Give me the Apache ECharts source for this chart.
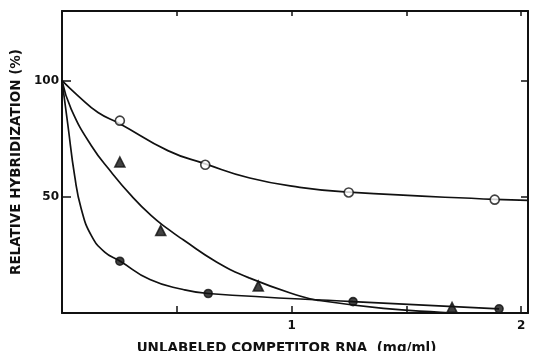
<!DOCTYPE html>
<html>
<head>
<meta charset="utf-8">
<script src="https://cdn.jsdelivr.net/npm/echarts@6/dist/echarts.min.js"></script>
<style>
  html, body { margin: 0; padding: 0; background: #fff; }
  #chart { width: 534px; height: 351px; }
</style>
</head>
<body>
<div id="chart"></div>
<script>
// measured markers [mg/ml, %]
var openPoints = [[0.252, 82.8], [0.624, 63.8], [1.249, 51.9], [1.885, 48.8]];
var trianglePoints = [[0.252, 65.0], [0.430, 35.5], [0.855, 11.6], [1.699, 2.4]];
var dotPoints = [[0.252, 22.3], [0.637, 8.4], [1.268, 4.9], [1.904, 1.8]];

// fitted curves
var openCurve = [[0, 100], [0.07, 93.5], [0.157, 86.3], [0.252, 81.5], [0.461, 69.9], [0.624, 64.2],
    [0.818, 58.1], [1.036, 54.1], [1.249, 52.0], [1.885, 48.9], [2.03, 48.5]];
var triangleCurve = [[0, 100], [0.04, 87.8], [0.128, 72.0], [0.215, 60.6], [0.302, 50.5], [0.389, 41.9],
    [0.461, 36.2], [0.528, 31.5], [0.673, 22.0], [0.818, 15.0], [1.036, 7.3], [1.12, 5.4],
    [1.4, 2.0], [1.65, 0.3], [1.72, 0]];
var dotCurve = [[0, 100], [0.026, 80.6], [0.055, 59.1], [0.084, 44.8], [0.128, 33.3], [0.186, 26.2],
    [0.252, 22.4], [0.383, 14.4], [0.528, 10.1], [0.637, 8.4], [1.268, 4.9], [1.904, 1.8]];

var xLabels = [1, 2];
var yLabels = [50, 100];

var ink = '#111';
var font = 'DejaVu Sans';

var chart = echarts.init(document.getElementById('chart'));

function curve(data) {
    return {
        type: 'line',
        data: data,
        smooth: 0.5,
        showSymbol: false,
        symbol: 'none',
        silent: true,
        lineStyle: { color: ink, width: 1.7 },
        z: 2
    };
}

function marks(data, symbol, size, fill) {
    return {
        type: 'scatter',
        data: data,
        symbol: symbol,
        symbolSize: size,
        itemStyle: { color: fill, borderColor: ink, borderWidth: 1.6 },
        z: 5
    };
}

var option = {
    animation: false,
    backgroundColor: '#fff',
    grid: { left: 62, right: 6, top: 11, bottom: 38, outerBoundsMode: 'none' },
    xAxis: [{
        type: 'value',
        min: 0,
        max: 2.03,
        interval: 0.5,
        splitLine: { show: false },
        axisLine: { onZero: false, lineStyle: { color: ink, width: 2 } },
        axisTick: { inside: true, length: 7, lineStyle: { color: ink, width: 1.5 } },
        axisLabel: {
            color: ink, fontFamily: font, fontSize: 12, fontWeight: 'bold', margin: 7,
            showMaxLabel: false,
            formatter: function (v) { return xLabels.indexOf(v) >= 0 ? String(v) : ''; }
        },
        name: 'UNLABELED COMPETITOR RNA  (mg/ml)',
        nameLocation: 'middle',
        nameGap: 28,
        nameTextStyle: { color: ink, fontFamily: font, fontSize: 13.5, fontWeight: 'bold', padding: [0, 17, 0, 0] }
    }, {
        type: 'value',
        position: 'top',
        min: 0,
        max: 2.03,
        interval: 0.5,
        splitLine: { show: false },
        axisLine: { onZero: false, lineStyle: { color: ink, width: 2 } },
        axisTick: { inside: true, length: 5, lineStyle: { color: ink, width: 1.5 } },
        axisLabel: { show: false }
    }],
    yAxis: [{
        type: 'value',
        min: 0,
        max: 130,
        interval: 50,
        splitLine: { show: false },
        axisLine: { onZero: false, lineStyle: { color: ink, width: 2 } },
        axisTick: { inside: true, length: 9, lineStyle: { color: ink, width: 1.5 } },
        axisLabel: {
            color: ink, fontFamily: font, fontSize: 12, fontWeight: 'bold', margin: 3,
            showMaxLabel: false,
            formatter: function (v) { return yLabels.indexOf(v) >= 0 ? String(v) : ''; }
        },
        name: 'RELATIVE HYBRIDIZATION (%)',
        nameLocation: 'middle',
        nameGap: 35,
        nameRotate: 90,
        nameTextStyle: { color: ink, fontFamily: font, fontSize: 13.5, fontWeight: 'bold' }
    }, {
        type: 'value',
        position: 'right',
        min: 0,
        max: 130,
        interval: 50,
        splitLine: { show: false },
        axisLine: { onZero: false, lineStyle: { color: ink, width: 2 } },
        axisTick: { inside: true, length: 7, lineStyle: { color: ink, width: 1.5 } },
        axisLabel: { show: false }
    }],
    series: [
        curve(openCurve),
        curve(triangleCurve),
        curve(dotCurve),
        marks(openPoints, 'circle', 9, '#fff'),
        marks(trianglePoints, 'triangle', 10, ink),
        marks(dotPoints, 'circle', 8, ink)
    ]
};

chart.setOption(option);
</script>
</body>
</html>
